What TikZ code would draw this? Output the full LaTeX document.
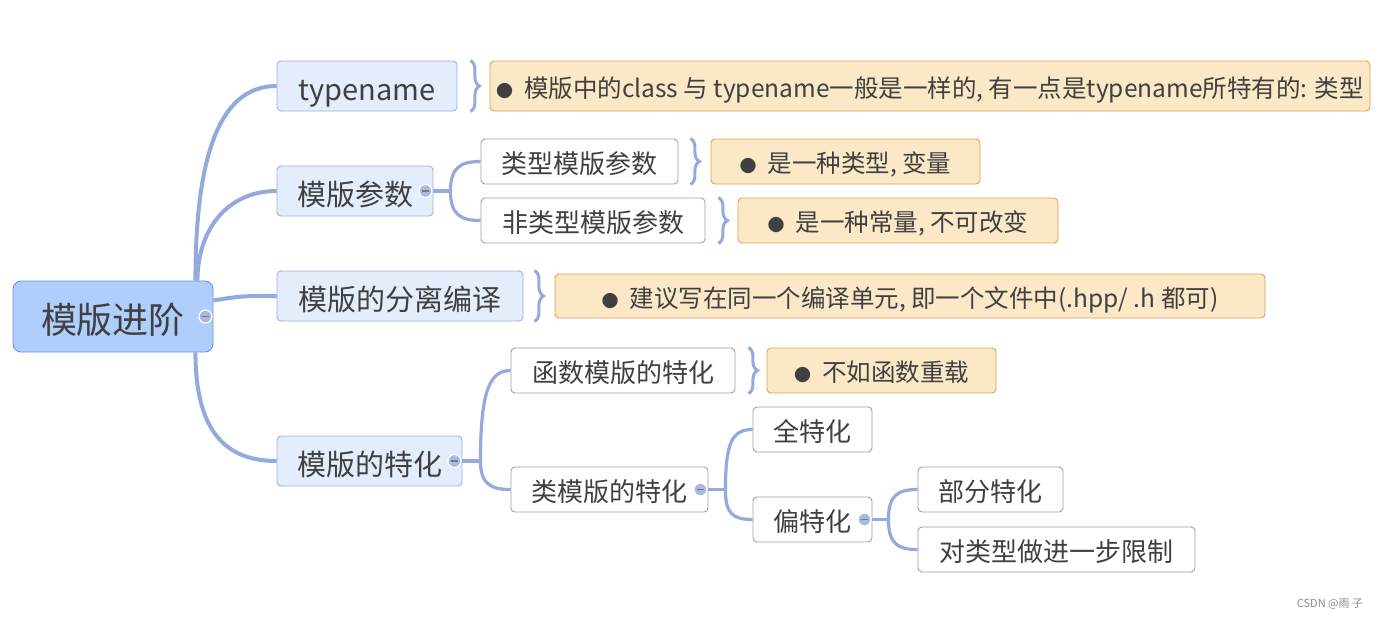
\documentclass[tikz,border=0pt]{standalone}
\usepackage{fontspec}
\setmainfont{Noto Sans CJK SC}
\usetikzlibrary{decorations.pathreplacing,calc}

\definecolor{rootfill}{HTML}{B0CEFC}
\definecolor{rootline}{HTML}{6A92E2}
\definecolor{mainfill}{HTML}{E4EDFC}
\definecolor{mainline}{HTML}{99B0E6}
\definecolor{subline}{HTML}{A0A0A0}
\definecolor{notefill}{HTML}{FBE8C7}
\definecolor{noteline}{HTML}{E0A24C}
\definecolor{linkcol}{HTML}{94AADC}
\definecolor{foldfill}{HTML}{A9B9E3}
\definecolor{textcol}{HTML}{404040}

\newcommand{\dotmark}{{\fontsize{17}{17}\selectfont ●}\hspace{11pt}}

\begin{document}
\begin{tikzpicture}[x=1pt,y=-1pt,
    box/.style={rectangle, rounded corners=4pt, inner sep=0pt, text=textcol, line width=0.9pt},
    rootbox/.style={box, rounded corners=8pt, fill=rootfill, draw=rootline, font=\fontsize{36}{40}\selectfont, text height=38pt, text depth=3.6pt},
    mainbox/.style={box, fill=mainfill, draw=mainline, minimum height=50, font=\fontsize{29}{32}\selectfont, text height=31pt, text depth=3pt},
    subbox/.style={box, fill=white, draw=subline, minimum height=45, font=\fontsize{26}{30}\selectfont, text height=26.5pt, text depth=2.7pt},
    notebox/.style={box, fill=notefill, draw=noteline, minimum height=45, font=\fontsize{24.5}{30}\selectfont, text height=25pt, text depth=2.4pt},
    rootlink/.style={draw=linkcol, line width=4pt},
    sublink/.style={draw=linkcol, line width=3.2pt},
    curly/.style={draw=linkcol, line width=3pt, decorate, decoration={brace, amplitude=9pt}}]

  \useasboundingbox (0,0) rectangle (1385,619);

  % Root
  \node[rootbox, minimum width=200, minimum height=71] (root) at (113,316.5) {模版进阶};

  % First level
  \node[mainbox, minimum width=180] (tn) at (367,86) {typename};
  \node[mainbox, minimum width=156] (pm) at (355,191) {模版参数};
  \node[mainbox, minimum width=246] (sep) at (400,296) {模版的分离编译};
  \node[mainbox, minimum width=185] (spec) at (369.5,461) {模版的特化};

  % Second level
  \node[subbox, minimum width=197] (tp) at (579.5,161.5) {类型模版参数};
  \node[subbox, minimum width=224] (ntp) at (593,220.5) {非类型模版参数};
  \node[subbox, minimum width=224] (fs) at (623,370.5) {函数模版的特化};
  \node[subbox, minimum width=197] (cs) at (609.5,489.5) {类模版的特化};
  \node[subbox, minimum width=119] (full) at (812.5,429.5) {全特化};
  \node[subbox, minimum width=119] (part) at (812.5,519.5) {偏特化};
  \node[subbox, minimum width=145] (pp) at (990.5,489.5) {部分特化};
  \node[subbox, minimum width=277] (lim) at (1056.5,549.5) {对类型做进一步限制};

  % Notes
  \node[notebox, minimum width=880, minimum height=50] (n1) at (930,86) {\dotmark 模版中的class 与 typename一般是一样的, 有一点是typename所特有的: 类型};
  \node[notebox, minimum width=269] (n2) at (845.5,161.5) {\dotmark 是一种类型, 变量};
  \node[notebox, minimum width=320] (n3) at (898,220.5) {\dotmark 是一种常量, 不可改变};
  \node[notebox, minimum width=710, minimum height=44] (n4) at (910,296) {\dotmark 建议写在同一个编译单元, 即一个文件中(.hpp/ .h 都可)};
  \node[notebox, minimum width=229] (n5) at (881.5,370.5) {\dotmark 不如函数重载};

  % Links from the root
  \draw[rootlink] ($(root.north east)+(-18,0)$) .. controls +(0,-130) and +(-55,0) .. (tn.west);
  \draw[rootlink] ($(root.north east)+(-16,0)$) .. controls +(0,-50) and +(-50,0) .. (pm.west);
  \draw[rootlink] ($(root.east)+(0,-16)$) .. controls +(30,-5) and +(-30,0) .. (sep.west);
  \draw[rootlink] ($(root.south east)+(-18,0)$) .. controls +(0,80) and +(-50,0) .. (spec.west);

  % Branches
  \draw[sublink] (pm.east) -- ++(17,0) coordinate (pmb);
  \draw[sublink] (spec.east) -- ++(18,0) coordinate (specb);
  \draw[sublink] (cs.east) -- ++(17,0) coordinate (csb);
  \draw[sublink] (part.east) -- ++(16,0) coordinate (partb);
  \foreach \b/\c in {pmb/tp, pmb/ntp, specb/fs, specb/cs, csb/full, csb/part, partb/pp, partb/lim}
    \draw[sublink] (\b) .. controls ($(\b)!.8!(\b|-\c.west)$) and ($(\c.west)+(-20,0)$) .. (\c.west);

  % Braces
  \foreach \n/\d in {tn/13, tp/12, ntp/13, sep/11, fs/13}
    \draw[curly] ($(\n.north east)+(\d,0)$) -- ($(\n.south east)+(\d,0)$);

  % Fold marks
  \foreach \n in {root, pm, spec, cs, part} {
    \filldraw[fill=foldfill, draw=white, line width=1.2pt] ($(\n.east)+(-8,0)$) circle (6.5pt);
    \draw[color=textcol!70, line width=1.6pt] ($(\n.east)+(-11.5,0)$) -- ($(\n.east)+(-4.5,0)$);
  }

  % Watermark
  \node[text=black!45, font=\fontsize{11}{13}\selectfont] (wm) at (1330,604) {CSDN @雨 子};
\end{tikzpicture}
\end{document}
